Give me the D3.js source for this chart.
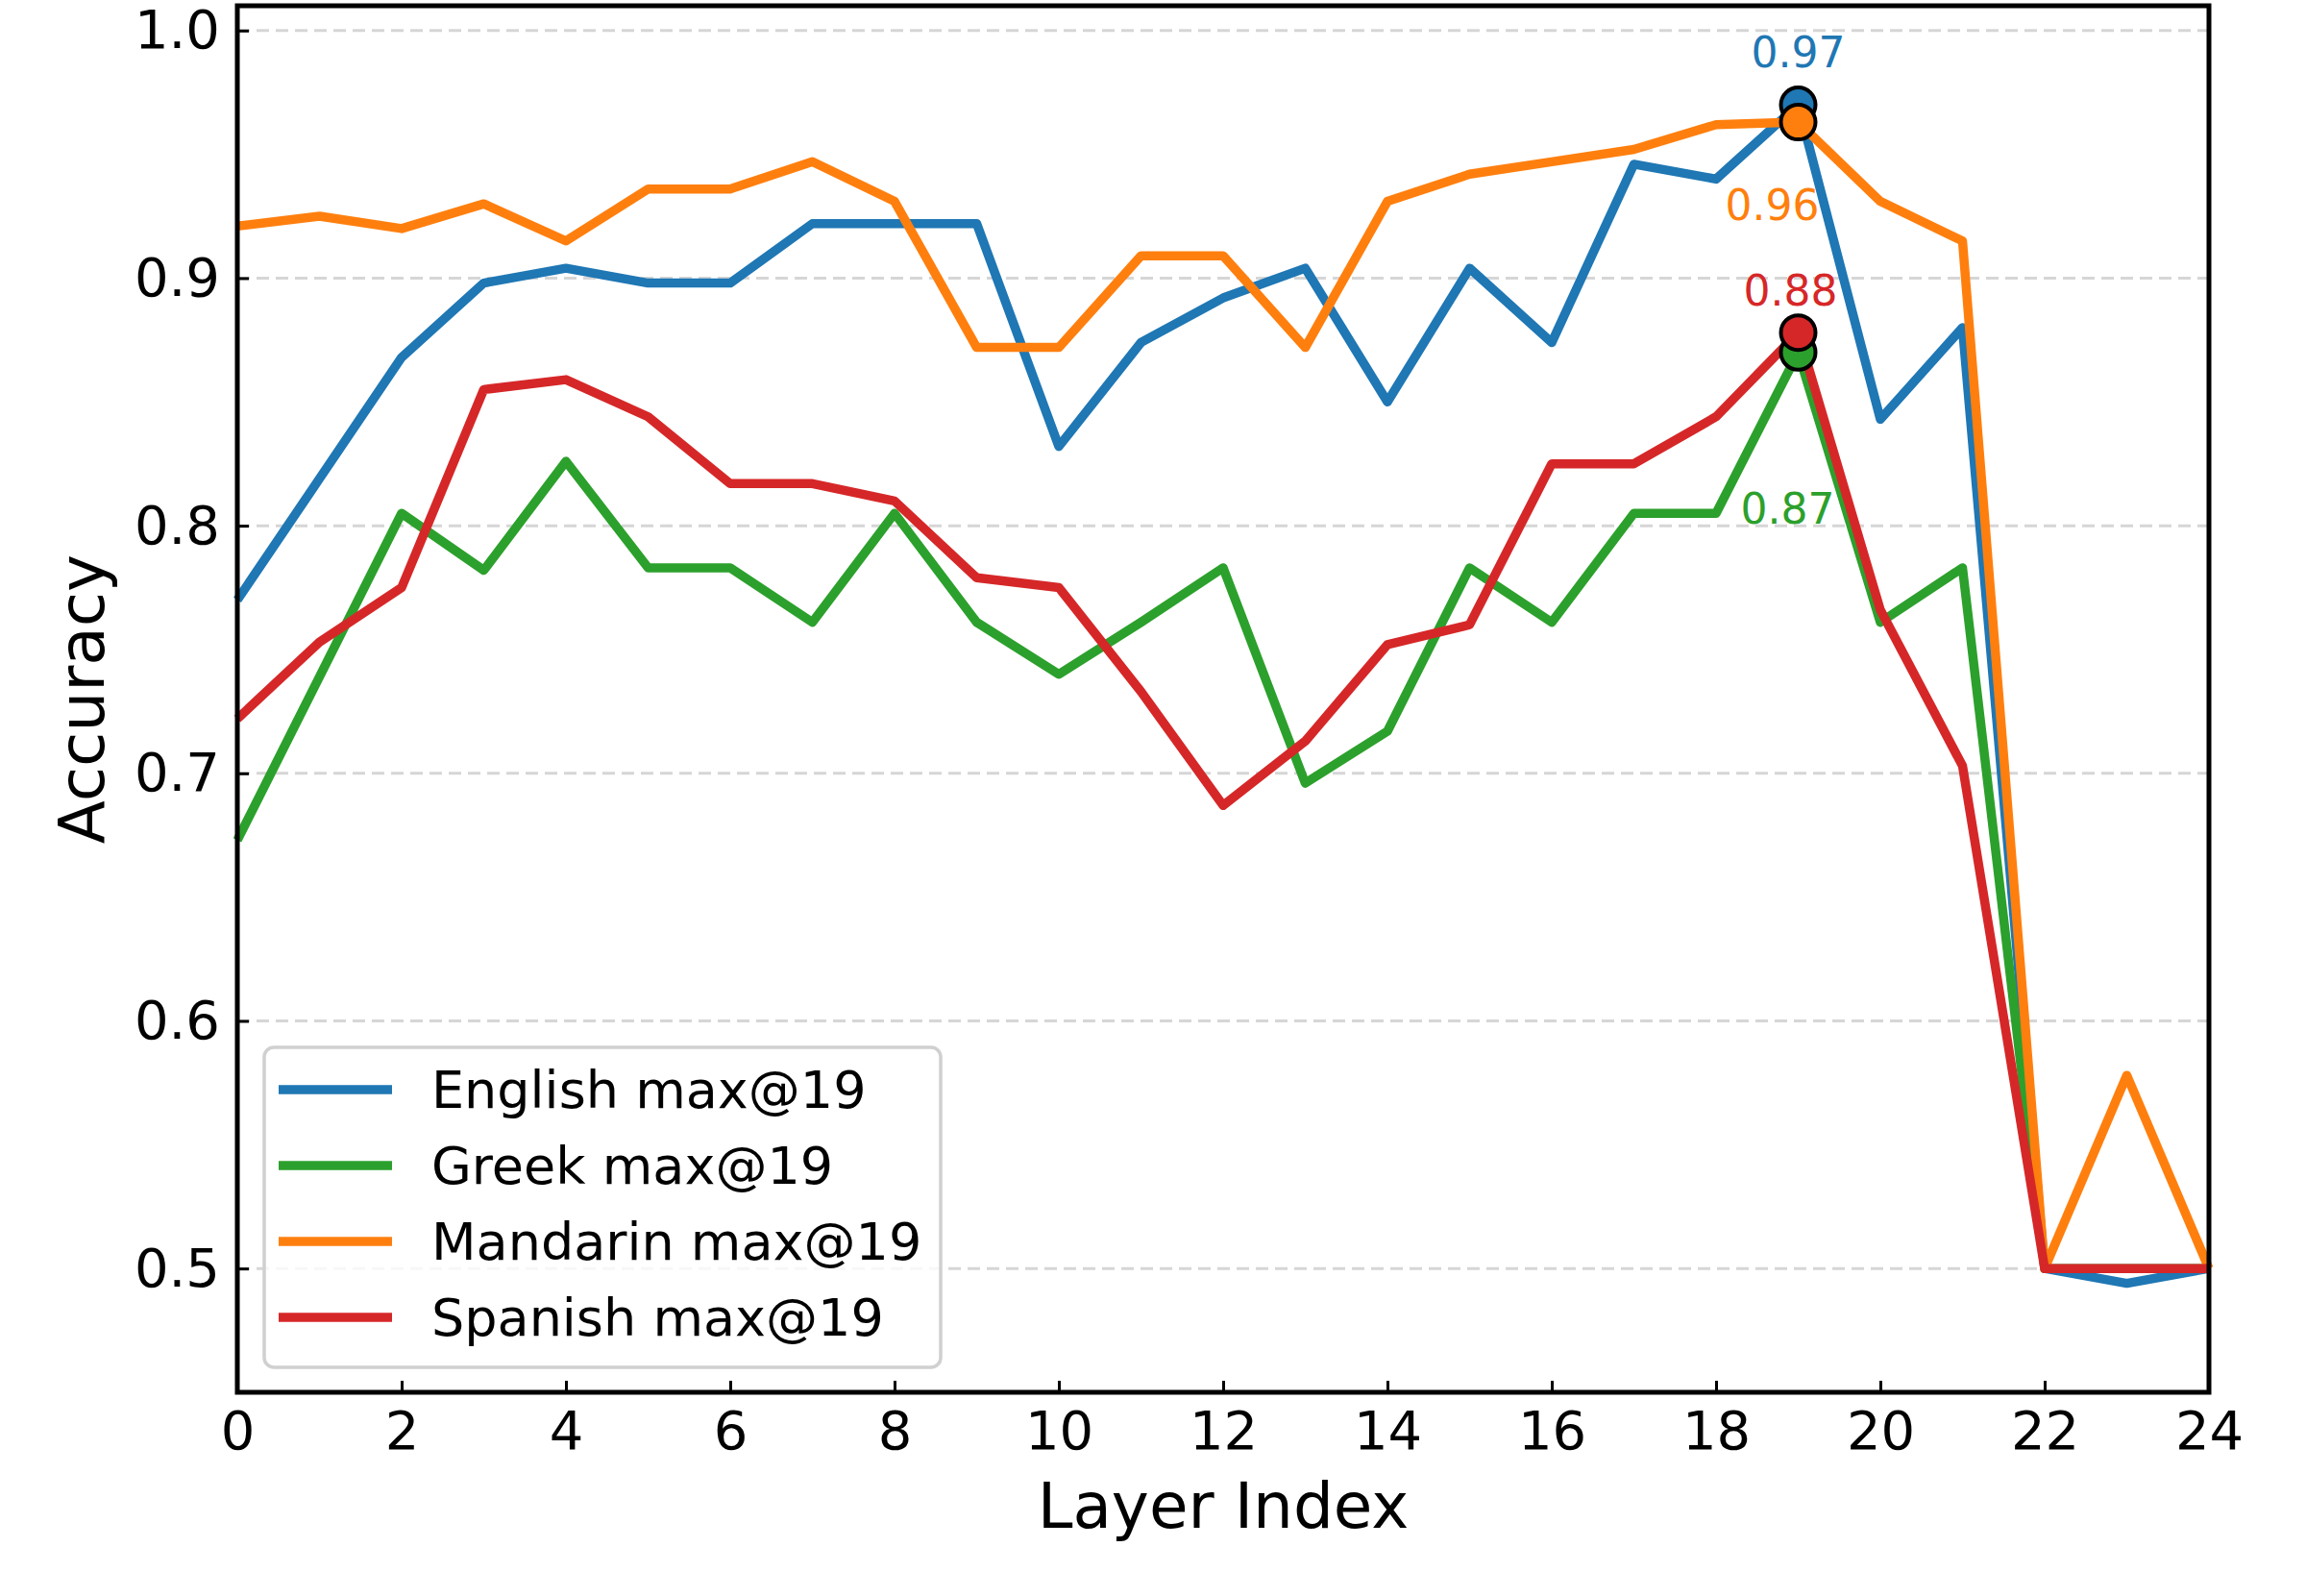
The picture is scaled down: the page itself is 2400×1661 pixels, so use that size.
<!DOCTYPE html>
<html>
<head>
  <meta charset="utf-8">
  <title>Accuracy by layer</title>
  <script src="https://cdn.jsdelivr.net/npm/d3@7"></script>
  <style>
    body { margin: 0; background: #fff; }
    svg { display: block; font-family: "DejaVu Sans", sans-serif; }
  </style>
</head>
<body>
  <script>
    // layer indices 0..24
    const layers = d3.range(0, 25);

    const english  = [0.770, 0.819, 0.868, 0.898, 0.904, 0.898, 0.898, 0.922, 0.922, 0.922, 0.832, 0.874, 0.892,
                      0.904, 0.850, 0.904, 0.874, 0.946, 0.940, 0.970, 0.843, 0.880, 0.500, 0.494, 0.500];
    const greek    = [0.673, 0.739, 0.805, 0.782, 0.826, 0.783, 0.783, 0.761, 0.805, 0.761, 0.740, 0.761, 0.783,
                      0.696, 0.717, 0.783, 0.761, 0.805, 0.805, 0.870, 0.761, 0.783, 0.500, 0.500, 0.500];
    const mandarin = [0.921, 0.925, 0.920, 0.930, 0.915, 0.936, 0.936, 0.947, 0.931, 0.872, 0.872, 0.909, 0.909,
                      0.872, 0.931, 0.942, 0.947, 0.952, 0.962, 0.963, 0.931, 0.915, 0.500, 0.578, 0.500];
    const spanish  = [0.722, 0.753, 0.775, 0.855, 0.859, 0.844, 0.817, 0.817, 0.810, 0.779, 0.775, 0.733, 0.687,
                      0.713, 0.752, 0.760, 0.825, 0.825, 0.844, 0.878, 0.766, 0.703, 0.500, 0.500, 0.500];

    const seriesNames = ["English", "Greek", "Mandarin", "Spanish"];
    const seriesValues = [english, greek, mandarin, spanish];
    const colors = ["#1f77b4", "#2ca02c", "#ff7f0e", "#d62728"];

    const xTicks = d3.range(0, 25, 2);
    const yTicks = [0.5, 0.6, 0.7, 0.8, 0.9, 1.0];

    // where each peak label sits relative to its marker (px)
    const labelOffsets = [[0, -39], [-11, 178], [-27, 102], [-8, -28]];

    const W = 2400, H = 1661;
    const plot = { left: 247, right: 2299, top: 6, bottom: 1449 };

    const svg = d3.select("body").append("svg")
      .attr("width", W)
      .attr("height", H);

    svg.append("rect").attr("width", W).attr("height", H).attr("fill", "#fff");

    const x = d3.scaleLinear().domain([0, 24]).range([plot.left, plot.right]);
    const y = d3.scaleLinear().domain([0.45, 1.01]).range([plot.bottom, plot.top]);

    // grid
    svg.append("g")
      .selectAll("line")
      .data(yTicks)
      .join("line")
      .attr("x1", plot.left)
      .attr("x2", plot.right)
      .attr("y1", d => y(d))
      .attr("y2", d => y(d))
      .attr("stroke", "#d6d6d6")
      .attr("stroke-width", 3)
      .attr("stroke-dasharray", "13,7");

    // lines
    const line = d3.line()
      .x((d, i) => x(layers[i]))
      .y(d => y(d));

    seriesValues.forEach((vals, k) => {
      svg.append("path")
        .datum(vals)
        .attr("fill", "none")
        .attr("stroke", colors[k])
        .attr("stroke-width", 9.5)
        .attr("stroke-linejoin", "round")
        .attr("stroke-linecap", "butt")
        .attr("d", line);
    });

    // peak markers + labels
    seriesValues.forEach((vals, k) => {
      const best = d3.maxIndex(vals);
      svg.append("circle")
        .attr("cx", x(layers[best]))
        .attr("cy", y(vals[best]))
        .attr("r", 18)
        .attr("fill", colors[k])
        .attr("stroke", "#000")
        .attr("stroke-width", 4);
    });
    seriesValues.forEach((vals, k) => {
      const best = d3.maxIndex(vals);
      svg.append("text")
        .attr("x", x(layers[best]) + labelOffsets[k][0])
        .attr("y", y(vals[best]) + labelOffsets[k][1])
        .attr("text-anchor", "middle")
        .attr("font-size", 44)
        .attr("fill", colors[k])
        .text(vals[best].toFixed(2));
    });

    // axes (ticks inward)
    const xAxis = svg.append("g")
      .attr("transform", `translate(0,${plot.bottom})`)
      .call(d3.axisBottom(x).tickValues(xTicks).tickSizeInner(-12).tickSizeOuter(0).tickPadding(19).tickFormat(d3.format("d")));
    xAxis.select(".domain").remove();
    xAxis.selectAll(".tick line").attr("stroke-width", 3);
    xAxis.selectAll(".tick text").attr("font-size", 56).attr("font-family", "DejaVu Sans").attr("fill", "#000");

    const yAxis = svg.append("g")
      .attr("transform", `translate(${plot.left},0)`)
      .call(d3.axisLeft(y).tickValues(yTicks).tickSizeInner(-12).tickSizeOuter(0).tickPadding(18).tickFormat(d3.format(".1f")));
    yAxis.select(".domain").remove();
    yAxis.selectAll(".tick line").attr("stroke-width", 3);
    yAxis.selectAll(".tick text").attr("font-size", 56).attr("font-family", "DejaVu Sans").attr("fill", "#000");

    // frame
    svg.append("rect")
      .attr("x", plot.left)
      .attr("y", plot.top)
      .attr("width", plot.right - plot.left)
      .attr("height", plot.bottom - plot.top)
      .attr("fill", "none")
      .attr("stroke", "#000")
      .attr("stroke-width", 5);

    // axis labels
    svg.append("text")
      .attr("x", (plot.left + plot.right) / 2)
      .attr("y", 1590)
      .attr("text-anchor", "middle")
      .attr("font-size", 66)
      .text("Layer Index");

    svg.append("text")
      .attr("transform", `translate(108,${(plot.top + plot.bottom) / 2}) rotate(-90)`)
      .attr("text-anchor", "middle")
      .attr("font-size", 66)
      .text("Accuracy");

    // legend
    const legend = svg.append("g").attr("transform", "translate(275,1090)");
    legend.append("rect")
      .attr("width", 704)
      .attr("height", 333)
      .attr("rx", 10)
      .attr("fill", "#fff")
      .attr("fill-opacity", 0.8)
      .attr("stroke", "#d0d0d0")
      .attr("stroke-width", 3.5);

    seriesNames.forEach((name, k) => {
      const best = d3.maxIndex(seriesValues[k]);
      const row = legend.append("g").attr("transform", `translate(0,${44 + k * 79})`);
      row.append("line")
        .attr("x1", 15).attr("x2", 133)
        .attr("stroke", colors[k])
        .attr("stroke-width", 9.5);
      row.append("text")
        .attr("x", 174)
        .attr("dy", "0.36em")
        .attr("font-size", 54)
        .text(`${name} max@${layers[best]}`);
    });
  </script>
</body>
</html>
